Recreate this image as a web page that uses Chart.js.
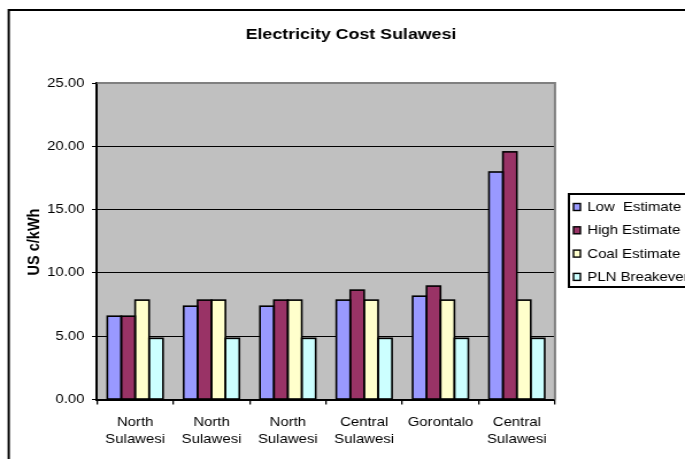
<!DOCTYPE html>
<html>
<head>
<meta charset="utf-8">
<script src="https://cdn.jsdelivr.net/npm/chart.js@4"></script>
<style>
  html, body { margin: 0; padding: 0; background: #fff; overflow: hidden; }
  /* the reference is a horizontally stretched export, so the canvas is drawn narrow and stretched */
  #wrap { width: 596px; height: 459px; transform: scale(1.1493, 1); transform-origin: 0 0; }
</style>
</head>
<body>
<div id="wrap"><canvas id="myChart" width="596" height="459"></canvas></div>
<script>
const chartTitle = 'Electricity Cost Sulawesi'
const yTitle = 'US c/kWh'

const categories = [
  ['North', 'Sulawesi'],
  ['North', 'Sulawesi'],
  ['North', 'Sulawesi'],
  ['Central', 'Sulawesi'],
  ['Gorontalo'],
  ['Central', 'Sulawesi'],
]

const seriesNames = ['Low  Estimate', 'High Estimate', 'Coal Estimate', 'PLN Breakeven']
const lowEstimate = [6.58, 7.37, 7.37, 7.85, 8.16, 17.97]
const highEstimate = [6.58, 7.85, 7.85, 8.64, 8.96, 19.56]
const coalEstimate = [7.85, 7.85, 7.85, 7.85, 7.85, 7.85]
const plnBreakeven = [4.83, 4.83, 4.83, 4.83, 4.83, 4.83]

const yTicks = [0, 5, 10, 15, 20, 25]

const COLORS = {
  low: '#9999FF',
  high: '#993366',
  coal: '#FFFFCC',
  pln: '#CCFFFF',
}

const FONT = 'Liberation Sans, Arial, sans-serif'

const bar = (label, data, color) => ({
  label,
  data,
  backgroundColor: color,
  borderWidth: 0,
})

const decorations = {
  id: 'decorations',
  beforeDraw(chart) {
    const { ctx, chartArea: a } = chart
    ctx.save()
    ctx.fillStyle = '#C0C0C0'
    ctx.fillRect(a.left, a.top, a.right - a.left, a.bottom - a.top)
    ctx.restore()
  },
  afterDatasetsDraw(chart) {
    // black outline round every bar, from the bar elements' own geometry
    const { ctx } = chart
    ctx.save()
    ctx.strokeStyle = '#000'
    ctx.lineWidth = 1.6
    chart.data.datasets.forEach((ds, i) => {
      chart.getDatasetMeta(i).data.forEach((el) => {
        const { x, y, base, width } = el.getProps(['x', 'y', 'base', 'width'], true)
        ctx.strokeRect(x - width / 2, y, width, base - y)
      })
    })
    ctx.restore()
  },
  afterDraw(chart) {
    const { ctx, chartArea: a } = chart
    ctx.save()
    // grey plot border, top and right
    ctx.strokeStyle = '#808080'
    ctx.lineWidth = 2
    ctx.beginPath()
    ctx.moveTo(a.left, a.top)
    ctx.lineTo(a.right, a.top)
    ctx.lineTo(a.right, a.bottom)
    ctx.stroke()

    // outer frame
    ctx.strokeStyle = '#000'
    ctx.lineWidth = 2
    ctx.beginPath()
    ctx.moveTo(7.6, 470)
    ctx.lineTo(7.6, 10)
    ctx.lineTo(610, 10)
    ctx.stroke()

    // title
    ctx.fillStyle = '#000'
    ctx.font = `bold 15.5px ${FONT}`
    ctx.textAlign = 'center'
    ctx.textBaseline = 'middle'
    ctx.fillText(chartTitle, 305.4, 35)

    // y axis title
    ctx.save()
    ctx.translate(29.6, 242)
    ctx.rotate(-Math.PI / 2)
    ctx.font = `bold 14.5px ${FONT}`
    ctx.fillText(yTitle, 0, 0)
    ctx.restore()

    // legend
    ctx.fillStyle = '#fff'
    ctx.fillRect(495, 194, 110, 93)
    ctx.strokeStyle = '#000'
    ctx.lineWidth = 2
    ctx.strokeRect(495, 194, 110, 93)
    ctx.font = `13px ${FONT}`
    ctx.textAlign = 'left'
    chart.data.datasets.forEach((ds, i) => {
      const y = 207 + i * 23.3
      ctx.fillStyle = ds.backgroundColor
      ctx.fillRect(499, y - 3.5, 6, 7)
      ctx.lineWidth = 1.4
      ctx.strokeRect(499, y - 3.5, 6, 7)
      ctx.fillStyle = '#000'
      ctx.fillText(ds.label, 511, y + 0.5)
    })
    ctx.restore()
  },
}

const ctx = document.getElementById('myChart').getContext('2d')
const myChart = new Chart(ctx, {
  type: 'bar',
  data: {
    labels: categories,
    datasets: [
      bar(seriesNames[0], lowEstimate, COLORS.low),
      bar(seriesNames[1], highEstimate, COLORS.high),
      bar(seriesNames[2], coalEstimate, COLORS.coal),
      bar(seriesNames[3], plnBreakeven, COLORS.pln),
    ],
  },
  options: {
    responsive: false,
    animation: false,
    devicePixelRatio: 1,
    events: [],
    datasets: {
      bar: { barPercentage: 1, categoryPercentage: 0.73, inflateAmount: 0 },
    },
    layout: {
      padding: { top: 83, right: 113.1, left: 0, bottom: 0 },
    },
    plugins: {
      legend: { display: false },
      title: { display: false },
      tooltip: { enabled: false },
    },
    scales: {
      x: {
        afterFit: (scale) => { scale.height = 59.5 },
        grid: {
          offset: true,
          drawOnChartArea: false,
          tickLength: 5,
          tickColor: '#000',
          color: '#000',
          lineWidth: 1.3,
        },
        border: { color: '#000', width: 2 },
        ticks: {
          color: '#000',
          font: { family: FONT, size: 13, lineHeight: 1.35 },
          padding: 9,
          maxRotation: 0,
          autoSkip: false,
        },
      },
      y: {
        min: yTicks[0],
        max: yTicks[yTicks.length - 1],
        afterFit: (scale) => { scale.width = 84.4 },
        afterBuildTicks: (scale) => { scale.ticks = yTicks.map((value) => ({ value })) },
        grid: {
          color: (c) => (c.tick && c.tick.value === 25 ? 'rgba(0,0,0,0)' : '#000'),
          tickColor: '#000',
          tickLength: 4.4,
          lineWidth: 1,
        },
        border: { color: '#000', width: 2 },
        ticks: {
          color: '#000',
          font: { family: FONT, size: 13 },
          padding: 6.5,
          callback: (v) => Number(v).toFixed(2),
        },
      },
    },
  },
  plugins: [decorations],
})
</script>
</body>
</html>
